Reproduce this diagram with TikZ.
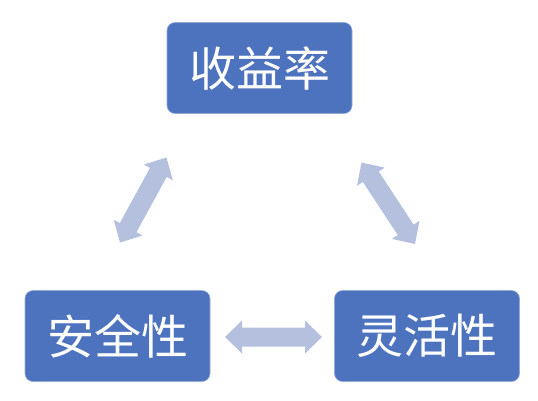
\documentclass[tikz,border=0pt]{standalone}
\usepackage{fontspec}
\newfontfamily\cjk{Noto Sans CJK SC}
\usetikzlibrary{calc}
\definecolor{boxblue}{RGB}{78,115,190}
\definecolor{boxedge}{RGB}{150,170,215}
\definecolor{arrowblue}{RGB}{180,192,222}
\tikzset{
  box/.style={rectangle, rounded corners=8pt, fill=boxblue, draw=boxedge, line width=0.6pt,
    minimum width=185pt, minimum height=91pt, inner sep=0pt, text=white,
    font=\cjk\fontsize{47}{50}\selectfont},
  arrowfill/.style={fill=arrowblue}
}
\newcommand\hl{17pt}
\newcommand\hw{16.5pt}
\newcommand\sw{9.5pt}
\newcommand\dblarr[2]{%
  \path (#1) coordinate (dA) (#2) coordinate (dB)
    ($(dA)!\hl!(dB)$) coordinate (dA1)
    ($(dB)!\hl!(dA)$) coordinate (dB1);
  \fill[arrowfill] (dA) -- ($(dA1)!\hw!90:(dB)$) -- ($(dA1)!\sw!90:(dB)$)
    -- ($(dB1)!\sw!-90:(dA)$) -- ($(dB1)!\hw!-90:(dA)$) -- (dB)
    -- ($(dB1)!\hw!90:(dA)$) -- ($(dB1)!\sw!90:(dA)$)
    -- ($(dA1)!\sw!-90:(dB)$) -- ($(dA1)!\hw!-90:(dB)$) -- cycle;}
\begin{document}
\begin{tikzpicture}[x=1pt,y=-1pt]
\useasboundingbox (0,0) rectangle (538,400);
\node[box] (ret) at (259.5,68) {收益率};
\node[box] (safe) at (117.5,336) {安全性};
\node[box] (flex) at (427,336) {灵活性};
\coordinate (a1s) at (166.5,157.5);
\coordinate (a1e) at (120,242.5);
\coordinate (a2s) at (361.5,162.5);
\coordinate (a2e) at (415,244);
\coordinate (a3s) at (225,337);
\coordinate (a3e) at (322,337);
\dblarr{a1s}{a1e}
\dblarr{a2s}{a2e}
\dblarr{a3s}{a3e}
\end{tikzpicture}
\end{document}
